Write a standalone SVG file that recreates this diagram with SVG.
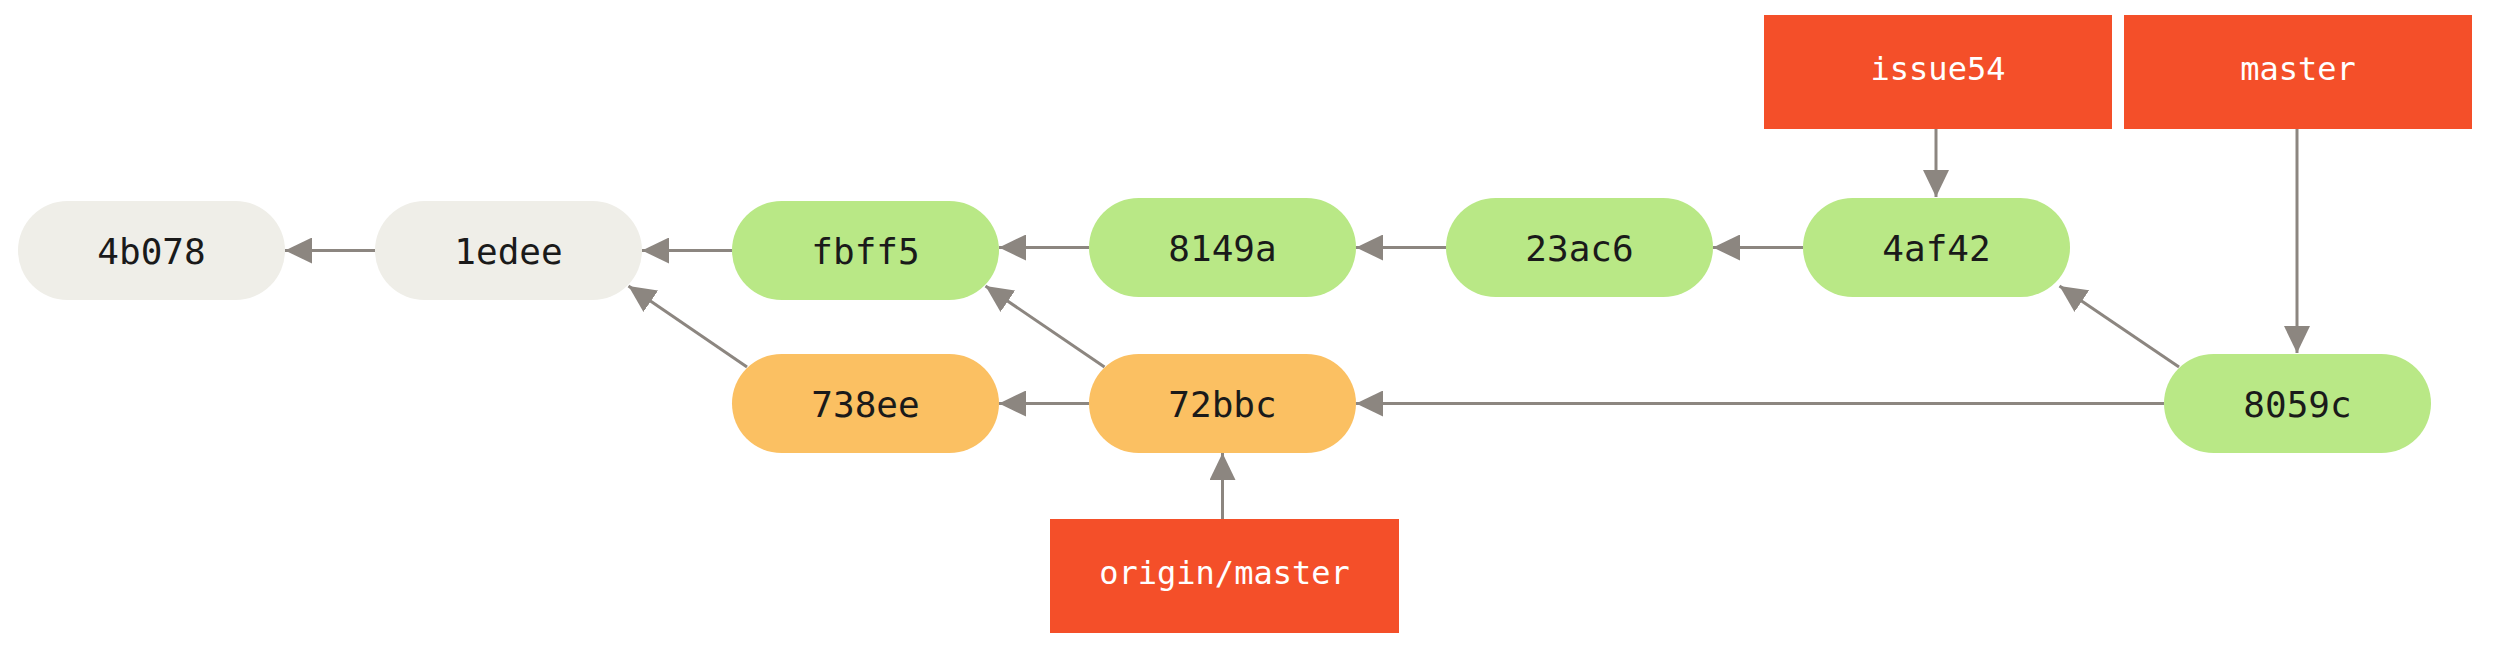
<svg xmlns="http://www.w3.org/2000/svg" width="2499" height="672" viewBox="0 0 2499 672">
<style>
.gray{fill:#efeee8}
.green{fill:#b9e886}
.orange{fill:#fbc062}
.ref{fill:#f44f29}
.ct{font-family:"DejaVu Sans Mono","Liberation Mono",monospace;font-size:36px;fill:#1a1a1a;text-anchor:middle}
.lt{font-family:"DejaVu Sans Mono","Liberation Mono",monospace;font-size:32px;fill:#ffffff;text-anchor:middle}
.edge{stroke:#8c8680;stroke-width:3;fill:none;marker-end:url(#ah)}
</style>
<defs>
<marker id="ah" markerUnits="userSpaceOnUse" viewBox="0 0 27 26" refX="27" refY="13" markerWidth="27" markerHeight="26" orient="auto">
<path d="M0,0 L27,13 L0,26 z" fill="#8c8680"/>
</marker>
</defs>
<rect width="2499" height="672" fill="#ffffff"/>
<g id="connectors">
<line class="edge" x1="375" y1="250.5" x2="285" y2="250.5"/>
<line class="edge" x1="732" y1="250.5" x2="642" y2="250.5"/>
<line class="edge" x1="1089" y1="247.5" x2="999" y2="247.5"/>
<line class="edge" x1="1446" y1="247.5" x2="1356" y2="247.5"/>
<line class="edge" x1="1803" y1="247.5" x2="1713" y2="247.5"/>
<line class="edge" x1="1089" y1="403.5" x2="999" y2="403.5"/>
<line class="edge" x1="2164" y1="403.5" x2="1356" y2="403.5"/>
<line class="edge" x1="747" y1="367" x2="628.5" y2="286"/>
<line class="edge" x1="1104.5" y1="367" x2="985.5" y2="286"/>
<line class="edge" x1="2179" y1="367" x2="2059.5" y2="286"/>
<line class="edge" x1="1222.5" y1="519" x2="1222.5" y2="453"/>
<line class="edge" x1="1936" y1="129" x2="1936" y2="197"/>
<line class="edge" x1="2297" y1="129" x2="2297" y2="353"/>
</g>
<g id="c4b078"><rect class="gray" x="18" y="201" width="267" height="99" rx="49.5"/><text class="ct" x="151.5" y="263.5">4b078</text></g>
<g id="c1edee"><rect class="gray" x="375" y="201" width="267" height="99" rx="49.5"/><text class="ct" x="508.5" y="263.5">1edee</text></g>
<g id="cfbff5"><rect class="green" x="732" y="201" width="267" height="99" rx="49.5"/><text class="ct" x="865.5" y="263.5">fbff5</text></g>
<g id="c8149a"><rect class="green" x="1089" y="198" width="267" height="99" rx="49.5"/><text class="ct" x="1222.5" y="260.5">8149a</text></g>
<g id="c23ac6"><rect class="green" x="1446" y="198" width="267" height="99" rx="49.5"/><text class="ct" x="1579.5" y="260.5">23ac6</text></g>
<g id="c4af42"><rect class="green" x="1803" y="198" width="267" height="99" rx="49.5"/><text class="ct" x="1936.5" y="260.5">4af42</text></g>
<g id="c738ee"><rect class="orange" x="732" y="354" width="267" height="99" rx="49.5"/><text class="ct" x="865.5" y="416.5">738ee</text></g>
<g id="c72bbc"><rect class="orange" x="1089" y="354" width="267" height="99" rx="49.5"/><text class="ct" x="1222.5" y="416.5">72bbc</text></g>
<g id="c8059c"><rect class="green" x="2164" y="354" width="267" height="99" rx="49.5"/><text class="ct" x="2297.5" y="416.5">8059c</text></g>
<g id="origin-master"><rect class="ref" x="1050" y="519" width="349" height="114"/><text class="lt" x="1224.5" y="584">origin/master</text></g>
<g id="issue54"><rect class="ref" x="1764" y="15" width="348" height="114"/><text class="lt" x="1938" y="80">issue54</text></g>
<g id="master"><rect class="ref" x="2124" y="15" width="348" height="114"/><text class="lt" x="2298" y="80">master</text></g>
</svg>
